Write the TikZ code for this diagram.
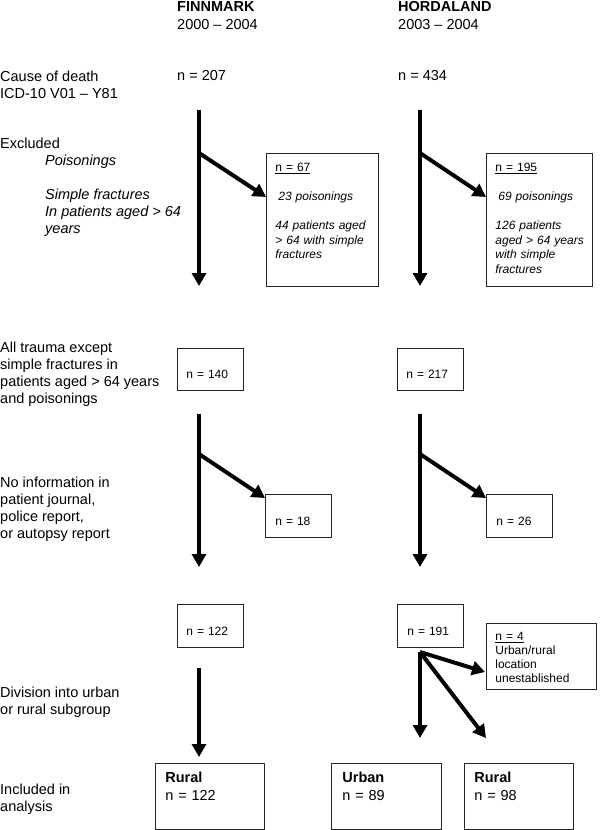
\documentclass[tikz,border=0pt]{standalone}
\usepackage{fontspec}
\setmainfont{Liberation Sans}
\usepackage{tikz}
\usetikzlibrary{arrows.meta}

\begin{document}
\begin{tikzpicture}[x=1pt,y=-1pt,
	flow/.style={line width=4pt,-{Triangle[length=13pt,width=14pt]}},
	box/.style={draw=black!85,line width=0.8pt,anchor=north west,align=left,inner ysep=0pt,font=\fontsize{12}{14.5}\selectfont},
	bigbox/.style={box,font=\fontsize{14.5}{18}\selectfont},
	lbl/.style={anchor=north west,align=left,inner sep=0pt,font=\fontsize{14.5}{17}\selectfont},
	itlbl/.style={lbl,font=\fontsize{14.5}{17}\selectfont\itshape}]
	\useasboundingbox (0,0) rectangle (600,830);
	
	%headings
	\node[lbl] (F_head) at (177,1.5) {\textbf{FINNMARK}\\[1pt]2000 – 2004};
	\node[lbl] (H_head) at (398,1.5) {\textbf{HORDALAND}\\[1pt]2003 – 2004};
	
	%row labels
	\node[lbl] (L_cause) at (0,70.5) {Cause of death\\ICD-10 V01 – Y81};
	\node[lbl] (L_excl) at (0,137.5) {Excluded};
	\node[itlbl] (L_exclwhy) at (45,154.5) {Poisonings\\[17pt]Simple fractures\\In patients aged > 64\\years};
	\node[lbl] (L_all) at (0,341.5) {All trauma except\\simple fractures in\\patients aged > 64 years\\and poisonings};
	\node[lbl] (L_noinfo) at (0,476.5) {No information in\\patient journal,\\police report,\\or autopsy report};
	\node[lbl] (L_div) at (0,686.5) {Division into urban\\or rural subgroup};
	\node[lbl] (L_incl) at (0,783.5) {Included in\\analysis};
	
	%finnmark
	\node[lbl] (F_n207) at (177,70.5) {n = 207};
	\node[box,inner xsep=9pt,text width=94pt,text height=18.5pt,text depth=114.5pt] (F_excl) at (266,153)
		{\underline{n = 67}\\[14.5pt]\hspace*{3pt}\textit{23 poisonings}\\[14.5pt]\mbox{\textit{44 patients aged}}\\\mbox{\textit{> 64 with simple}}\\\textit{fractures}};
	\node[box,inner xsep=9pt,text width=48pt,text height=30pt,text depth=12pt] (F_n140) at (177,348) {n = 140};
	\node[box,inner xsep=10pt,text width=46pt,text height=31pt,text depth=12pt] (F_n18) at (265,494) {n = 18};
	\node[box,inner xsep=9pt,text width=48pt,text height=31pt,text depth=12pt] (F_n122) at (177,604) {n = 122};
	\node[bigbox,inner xsep=10pt,text width=89pt,text height=19pt,text depth=47pt] (F_rural) at (155,763) {\textbf{Rural}\\n = 122};
	
	\coordinate (F1_top) at (199,110);
	\coordinate (F1_split) at (199,153);
	\coordinate (F1_end) at (199,286);
	\coordinate (F_excl_in) at (266,197);
	\draw[flow] (F1_top) -- (F1_end);
	\draw[flow] (F1_split) -- (F_excl_in);
	
	\coordinate (F2_top) at (199,414);
	\coordinate (F2_split) at (199,454);
	\coordinate (F2_end) at (199,567);
	\coordinate (F_n18_in) at (265,498);
	\draw[flow] (F2_top) -- (F2_end);
	\draw[flow] (F2_split) -- (F_n18_in);
	
	\coordinate (F3_top) at (199,668);
	\coordinate (F3_end) at (199,757);
	\draw[flow] (F3_top) -- (F3_end);
	
	%hordaland
	\node[lbl] (H_n434) at (398,70.5) {n = 434};
	\node[box,inner xsep=9pt,text width=88pt,text height=18.5pt,text depth=114.5pt] (H_excl) at (486,153)
		{\underline{n = 195}\\[14.5pt]\hspace*{3pt}\textit{69 poisonings}\\[14.5pt]\textit{126 patients}\\\mbox{\textit{aged > 64 years}}\\\textit{with simple}\\\textit{fractures}};
	\node[box,inner xsep=9pt,text width=48pt,text height=30pt,text depth=12pt] (H_n217) at (397,348) {n = 217};
	\node[box,inner xsep=10pt,text width=46pt,text height=31pt,text depth=12pt] (H_n26) at (486,494) {n = 26};
	\node[box,inner xsep=10pt,text width=46pt,text height=31pt,text depth=12pt] (H_n191) at (397,604) {n = 191};
	\node[box,font=\fontsize{12}{14}\selectfont,inner xsep=9pt,text width=92pt,text height=17.5pt,text depth=48.5pt] (H_n4) at (486,623)
		{\underline{n = 4}\\Urban/rural\\location\\unestablished};
	\node[bigbox,inner xsep=11pt,text width=88pt,text height=19pt,text depth=47pt] (H_urban) at (331,763) {\textbf{Urban}\\n = 89};
	\node[bigbox,inner xsep=10pt,text width=89pt,text height=19pt,text depth=47pt] (H_rural) at (464,763) {\textbf{Rural}\\n = 98};
	
	\coordinate (H1_top) at (420,110);
	\coordinate (H1_split) at (420,153);
	\coordinate (H1_end) at (420,286);
	\coordinate (H_excl_in) at (486,197);
	\draw[flow] (H1_top) -- (H1_end);
	\draw[flow] (H1_split) -- (H_excl_in);
	
	\coordinate (H2_top) at (420,414);
	\coordinate (H2_split) at (420,454);
	\coordinate (H2_end) at (420,567);
	\coordinate (H_n26_in) at (486,498);
	\draw[flow] (H2_top) -- (H2_end);
	\draw[flow] (H2_split) -- (H_n26_in);
	
	\coordinate (H3_split) at (420,652);
	\coordinate (H_n4_in) at (485,672);
	\coordinate (H3_urban) at (420,738);
	\coordinate (H3_rural) at (486,738);
	\draw[flow] (H3_split) -- (H_n4_in);
	\draw[flow] (H3_split) -- (H3_urban);
	\draw[flow] (H3_split) -- (H3_rural);
\end{tikzpicture}
\end{document}
